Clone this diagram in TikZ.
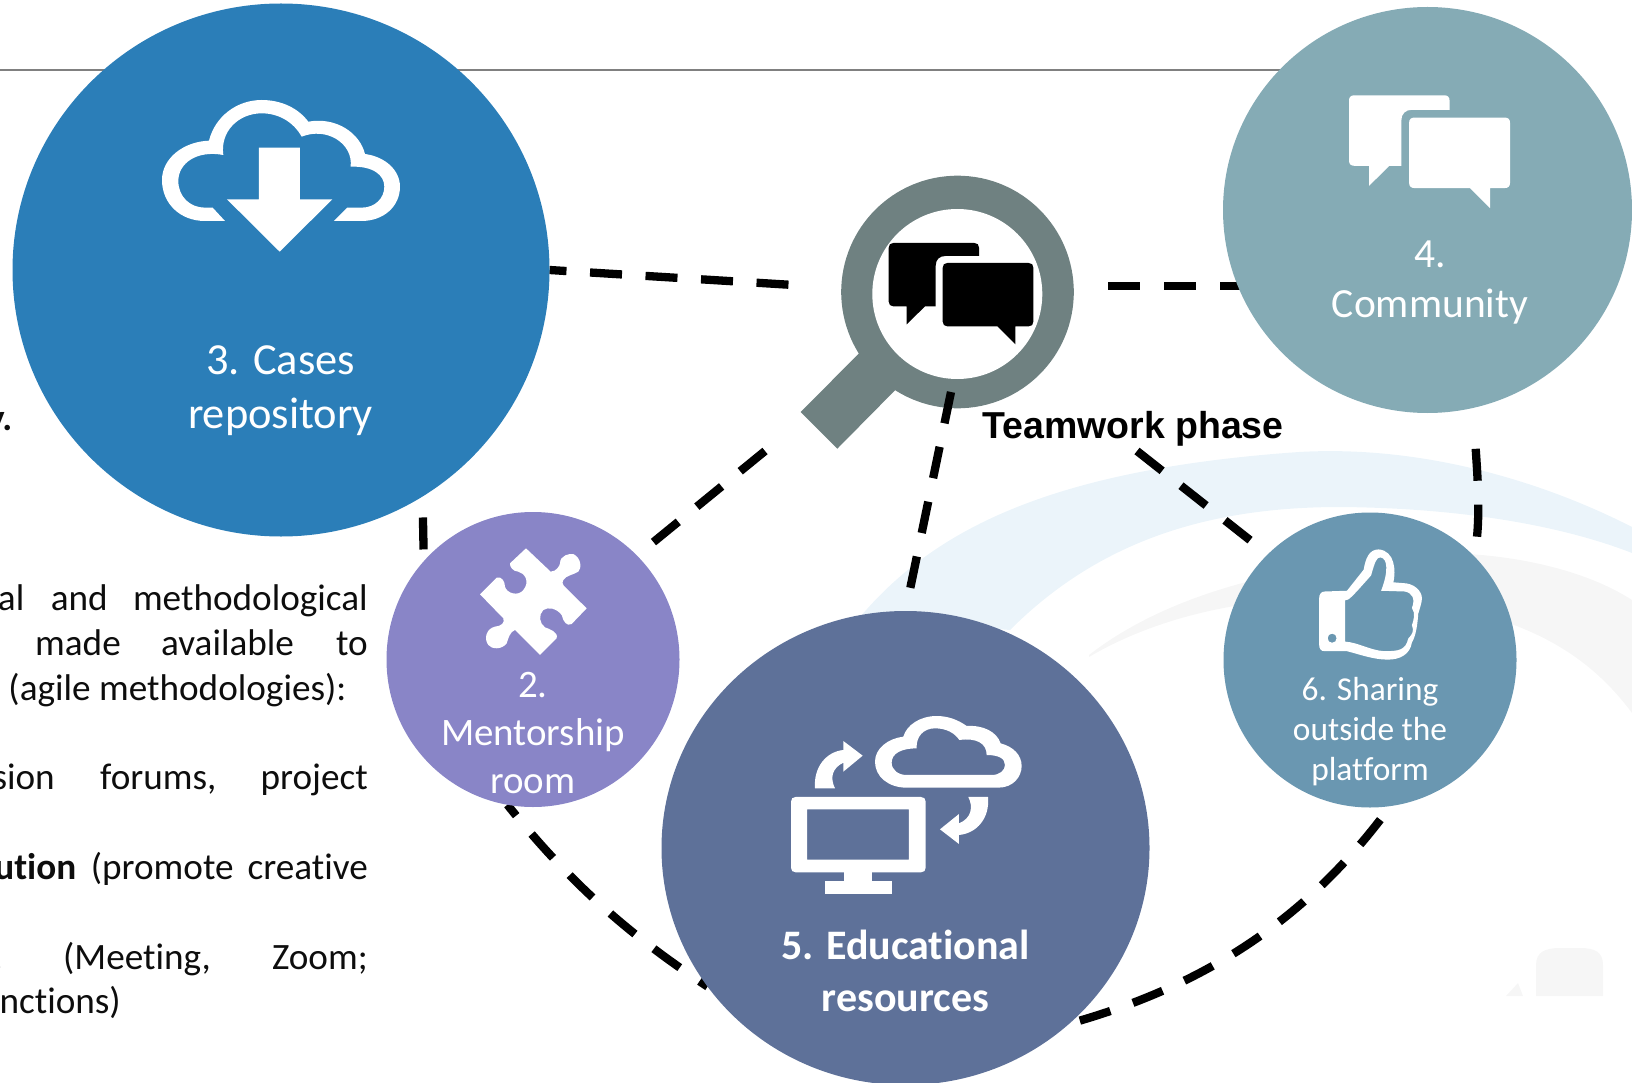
\documentclass[tikz,border=0pt]{standalone}
\usepackage{fontspec}
\usetikzlibrary{shapes.geometric}
\setmainfont{Carlito}[Ligatures=CommonOff]
\newfontfamily\arialfont{Liberation Sans}
\definecolor{cthree}{HTML}{2B7EB8}
\definecolor{cfour}{HTML}{85ABB5}
\definecolor{ctwo}{HTML}{8985C7}
\definecolor{csix}{HTML}{6A97B1}
\definecolor{cfive}{HTML}{5E7199}
\definecolor{cmag}{HTML}{6F8181}
\definecolor{wmblue}{HTML}{EBF4FA}
\definecolor{wmgray}{HTML}{F6F6F6}
\definecolor{bodytext}{HTML}{0D0D0D}
\definecolor{rulegray}{HTML}{808080}
\pgfdeclarelayer{backlayer}
\pgfdeclarelayer{maglayer}
\pgfdeclarelayer{midlayer}
\pgfsetlayers{backlayer,maglayer,midlayer,main}
\tikzset{
  disc/.style={circle,inner sep=0pt,outer sep=0pt,minimum size=#1,draw=none},
  oval/.style 2 args={ellipse,inner sep=0pt,outer sep=0pt,minimum width=#1,minimum height=#2,draw=none},
  lab/.style={inner sep=0pt,text=white,align=center},
  wordw/.style={inner sep=0pt,anchor=base west,text=bodytext,font=\fontsize{37.2}{44}\selectfont},
  worde/.style={inner sep=0pt,anchor=base east,text=bodytext,font=\fontsize{37.2}{44}\selectfont},
  conn/.style={line width=8.3pt,draw=black,line cap=butt,dash pattern=on 32pt off 24pt,dash phase=#1},
  conn/.default=0pt,
}
\newcommand{\chaticon}[4]{%
  \begin{scope}[shift={(#2,#3)},scale=#4]
  \fill[#1] (14,0) -- (257,0) .. controls (266,0) and (271,5) .. (271,14) -- (271,39) -- (170,39) .. controls (152,39) and (141,50) .. (141,68) -- (141,190) -- (109,190) -- (54,244) -- (54,190) -- (14,190) .. controls (5,190) and (0,185) .. (0,176) -- (0,14) .. controls (0,5) and (5,0) .. (14,0) -- cycle;
  \fill[#1] (176,60) -- (420,60) .. controls (429,60) and (434,65) .. (434,74) -- (434,236) .. controls (434,245) and (429,250) .. (420,250) -- (380,250) -- (380,304) -- (326,250) -- (176,250) .. controls (167,250) and (162,245) .. (162,236) -- (162,74) .. controls (162,65) and (167,60) .. (176,60) -- cycle;
  \end{scope}}
\begin{document}
\begin{tikzpicture}[x=1pt,y=-1pt]
\useasboundingbox (0,0) rectangle (1632,1083);
\clip (0,0) rectangle (1632,1083);
% discs
\node[oval={537pt}{533pt},fill=cthree] (c3) at (281,270) {};
\node[oval={409pt}{406pt},fill=cfour] (c4) at (1427.5,210) {};
\node[oval={293pt}{295pt},fill=ctwo] (c2) at (533,659.5) {};
\node[oval={293pt}{295pt},fill=csix] (c6) at (1370,660) {};
\node[oval={488pt}{474pt},fill=cfive] (c5) at (905.5,848) {};
% free ends
\coordinate (m3) at (951,392);
\coordinate (m4) at (765,451);
\coordinate (t5) at (1137,451);
\coordinate (e6) at (1477,537);
\coordinate (e4) at (1250,284.5);
\begin{pgfonlayer}{maglayer}
  \node[disc=232.6pt,fill=cmag] (mag) at (957.5,292) {};
  \fill[cmag] (859,353.3) -- (800.7,412) -- (837.3,448.7) -- (895.3,390) -- cycle;
  \node[disc=170pt,fill=white] (lens) at (957.3,294) {};
\end{pgfonlayer}
\begin{pgfonlayer}{backlayer}
  % watermark
  \fill[wmblue] (860,617) .. controls (930,535) and (1040,470) .. (1299,452) .. controls (1420,445) and (1540,480) .. (1632,527) -- (1632,553) .. controls (1560,525) and (1460,508) .. (1340,507) .. controls (1210,507) and (1100,540) .. (1010,630) -- cycle;
  \fill[wmgray] (1089,655) .. controls (1160,600) and (1260,570) .. (1400,555) .. controls (1470,548) and (1570,560) .. (1632,600) -- (1632,713) .. controls (1600,670) and (1560,640) .. (1500,620) .. controls (1400,590) and (1220,580) .. (1089,657) -- cycle;
  \fill[wmgray] (1536,996) -- (1536,965) .. controls (1536,952) and (1545,948) .. (1560,948) -- (1580,948) .. controls (1595,948) and (1603,952) .. (1603,965) -- (1603,996) -- cycle;
  \fill[wmgray] (1506,996) -- (1518,983) -- (1523,996) -- cycle;
  % rule
  \draw[draw=rulegray,line width=2pt] (0,70.5) -- (1300,70.5);
  % connectors
  \draw[conn=15pt,dash pattern=on 32pt off 23.6pt,shorten >=52.5pt] (c3.east) -- (mag.178);
  \draw[conn=0pt,shorten <=34.7pt] (mag.3.7) -- (mag.3.7 -| e4);
  \draw[conn=0pt] (m4) -- (c2.45.4);
  \draw[conn=0pt] (t5) -- (c6.134.5);
  \draw[conn=0pt,shorten <=41pt] (c4.-77) .. controls (1477,470) and (1480,505) .. (e6);
  \draw[conn=35pt] (c3.-58.6) -- (c2.138);
  \draw[conn=18pt] (c2.-100) .. controls (579,895) and (645,945) .. (c5.215);
  \draw[conn=39pt,dash pattern=on 32pt off 24pt] (c6.-82) .. controls (1300,930) and (1190,990) .. (c5.-47.6);
\end{pgfonlayer}
\begin{pgfonlayer}{midlayer}
  \draw[conn=0pt] (m3) -- (c5.north);
\end{pgfonlayer}
% chat icons
\chaticon{black}{888.7}{243}{0.3333}
\chaticon{white}{1349}{95.3}{0.371}
% cloud download
\begin{scope}[shift={(140,80)},scale=0.3333]
  \fill[white] (255,423) -- (195,423) .. controls (120,423) and (66,370) .. (66,300) .. controls (66,235) and (130,185) .. (207,182) .. controls (225,110) and (290,60) .. (365,60) .. controls (425,60) and (475,85) .. (505,125) .. controls (590,110) and (660,160) .. (675,222) .. controls (735,230) and (780,270) .. (780,320) .. controls (780,380) and (730,423) .. (665,423) -- (582,423) -- (622,383) -- (665,383) .. controls (705,383) and (733,355) .. (733,320) .. controls (733,285) and (700,258) .. (632,260) .. controls (640,190) and (560,140) .. (485,170) .. controls (460,125) and (415,100) .. (365,100) .. controls (295,100) and (240,155) .. (250,225) .. controls (170,210) and (115,250) .. (115,303) .. controls (115,350) and (150,383) .. (195,383) -- (218,383) -- cycle;
  \fill[white] (357,203) -- (480,203) -- (480,358) -- (577,358) -- (419,515) -- (261,358) -- (357,358) -- cycle;
\end{scope}
% puzzle
\begin{scope}[shift={(460,530)},scale=0.3333]
  \fill[white] (198,55) -- (272,125) .. controls (290,125) and (300,105) .. (300,100) .. controls (300,75) and (330,70) .. (340,72) .. controls (365,85) and (365,115) .. (355,125) .. controls (340,135) and (320,135) .. (310,150) .. controls (305,160) and (310,165) .. (312,168) -- (380,235) -- (335,282) .. controls (320,290) and (310,275) .. (305,255) .. controls (290,235) and (265,230) .. (250,240) .. controls (235,255) and (238,280) .. (255,292) .. controls (270,298) and (295,305) .. (290,325) -- (240,375) -- (165,300) .. controls (150,305) and (145,325) .. (140,340) .. controls (125,360) and (95,358) .. (85,345) .. controls (70,325) and (80,295) .. (105,290) .. controls (125,288) and (135,278) .. (130,265) -- (60,193) -- (110,143) .. controls (125,138) and (135,155) .. (135,170) .. controls (140,190) and (175,200) .. (190,180) .. controls (210,155) and (195,130) .. (175,125) .. controls (160,125) and (148,110) .. (150,100) -- cycle;
\end{scope}
% monitor and cloud
\begin{scope}[shift={(760,690)},scale=0.3333]
  \fill[white,even odd rule] (107,321) -- (483,321) .. controls (492,321) and (497,326) .. (497,335) -- (497,533) .. controls (497,542) and (492,547) .. (483,547) -- (107,547) .. controls (98,547) and (93,542) .. (93,533) -- (93,335) .. controls (93,326) and (98,321) .. (107,321) -- cycle
    (141,358) rectangle (447,509);
  \fill[white] (253,547) rectangle (337,573);
  \fill[white] (194,573) rectangle (396,611);
  \fill[white,even odd rule] (440,293) -- (715,293) .. controls (760,293) and (785,260) .. (785,228) .. controls (785,195) and (760,170) .. (722,160) .. controls (710,125) and (670,105) .. (620,108) .. controls (595,90) and (565,78) .. (530,78) .. controls (480,78) and (440,105) .. (430,140) .. controls (385,145) and (345,175) .. (345,215) .. controls (345,260) and (385,293) .. (440,293) -- cycle
    (440,255) -- (695,255) .. controls (720,255) and (735,240) .. (735,225) .. controls (735,205) and (715,195) .. (680,195) .. controls (680,160) and (650,143) .. (598,150) .. controls (585,130) and (560,115) .. (525,115) .. controls (490,115) and (468,140) .. (470,175) .. controls (425,175) and (395,190) .. (395,218) .. controls (395,240) and (415,255) .. (440,255) -- cycle;
  \fill[white] (165,295) .. controls (160,230) and (200,185) .. (250,180) -- (250,153) -- (308,197) -- (250,245) -- (250,218) .. controls (215,235) and (210,265) .. (225,295) -- cycle;
  \fill[white] (684,321) .. controls (690,385) and (650,430) .. (597,435) -- (597,462) -- (540,418) -- (597,372) -- (597,400) .. controls (635,385) and (640,350) .. (625,321) -- cycle;
\end{scope}
% thumb
\begin{scope}[shift={(1050,430)},xscale=0.3712,yscale=0.3827]
  \fill[white,even odd rule] (740,422) .. controls (730,422) and (725,430) .. (725,440) -- (725,560) .. controls (725,572) and (730,578) .. (740,578) -- (800,578) .. controls (830,585) and (870,600) .. (910,600) .. controls (945,600) and (970,585) .. (975,555) .. controls (985,540) and (990,510) .. (992,480) .. controls (995,470) and (1002,450) .. (1002,440) .. controls (1002,420) and (980,400) .. (950,400) -- (925,398) .. controls (932,370) and (930,315) .. (885,312) .. controls (860,312) and (850,335) .. (845,365) -- (800,420) -- cycle
    (795,445) .. controls (805,445) and (810,440) .. (865,380) .. controls (875,345) and (880,332) .. (890,333) .. controls (910,335) and (912,370) .. (892,420) -- (955,422) .. controls (975,425) and (985,440) .. (975,465) .. controls (985,480) and (980,495) .. (975,510) .. controls (982,525) and (975,535) .. (965,545) .. controls (958,575) and (940,578) .. (900,578) .. controls (860,575) and (830,555) .. (795,553) -- cycle
    (772,544) .. controls (772,537) and (767,532) .. (760,532) .. controls (753,532) and (748,537) .. (748,544) .. controls (748,551) and (753,556) .. (760,556) .. controls (767,556) and (772,551) .. (772,544) -- cycle;
\end{scope}
% labels
\node[lab,font=\fontsize{44.4}{54}\selectfont] (l3) at (280.5,391) {3. Cases\\repository};
\node[lab,font=\fontsize{41.5}{50}\selectfont] (l4) at (1430,283) {4.\\Community};
\node[lab,font=\fontsize{38.9}{48}\selectfont] (l2) at (533,733) {2.\\Mentorship\\room};
\node[lab,font=\fontsize{33.4}{40}\selectfont] (l6) at (1370,732) {6. Sharing\\outside the\\platform};
\node[lab,font=\fontsize{42}{52}\selectfont\bfseries] (l5) at (905.5,971) {5. Educational\\resources};
\node[inner sep=0pt,anchor=base west,font=\arialfont\bfseries\fontsize{37.5}{44}\selectfont] (tw) at (982,438) {Teamwork phase};
% left text
\node[worde,font=\fontsize{37.2}{44}\selectfont\bfseries] (w0) at (12.5,430) {y.};
\node[worde] (w1a) at (24.5,610) {al};
\node[wordw] (w1b) at (50.7,610) {and};
\node[worde] (w1c) at (368,610) {methodological};
\node[wordw] (w2a) at (35,655) {made};
\node[wordw] (w2b) at (161,655) {available};
\node[worde] (w2c) at (368,655) {to};
\node[wordw] (w3a) at (8.3,700.5) {(agile methodologies):};
\node[worde] (w4a) at (55,789) {sion};
\node[wordw] (w4b) at (100,789) {forums,};
\node[worde] (w4c) at (368,789) {project};
\node[worde,font=\fontsize{37.2}{44}\selectfont\bfseries] (w5a) at (76.5,879.5) {ution};
\node[wordw] (w5b) at (90.7,879.5) {(promote};
\node[worde] (w5c) at (368,879.5) {creative};
\node[worde] (w6a) at (3,969) {.};
\node[wordw] (w6b) at (63,969) {(Meeting,};
\node[worde] (w6c) at (368,969) {Zoom;};
\node[worde] (w7a) at (121,1013.7) {nctions)};
\end{tikzpicture}
\end{document}
